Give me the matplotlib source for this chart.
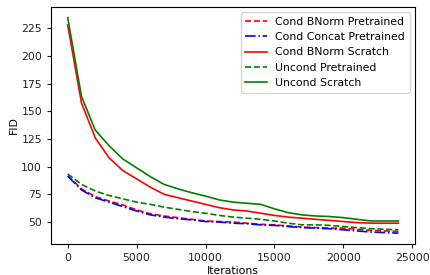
import matplotlib
matplotlib.use("Agg")
import matplotlib.pyplot as plt
import numpy as np

iterations = np.arange(0, 25000, 1000)

cond_bnorm_pre = [92, 80, 73, 69, 65.5, 61, 57.5, 55.5, 54, 52.5, 51, 50.5, 50,
                  49, 48, 47.5, 46.5, 45.5, 45, 44.5, 44.5, 43.5, 42.5, 42, 41.5]
cond_concat_pre = [91.5, 79, 72, 68, 64, 60, 56.5, 54.5, 53, 52, 50.5, 50, 49,
                   48.5, 47.5, 47, 46, 45, 44.5, 44, 43, 42, 41, 40.5, 40]
cond_bnorm_scratch = [228, 157.5, 126, 108, 96.5, 89, 81.5, 75, 72, 69, 66, 63, 61,
                      60, 58, 56, 54.5, 53.5, 52.5, 51.5, 50.5, 49.5, 49, 49, 49]
uncond_pre = [93.5, 84, 78, 74, 71, 68, 66, 63.5, 61.5, 59.5, 58, 56, 54.5,
              53.5, 52.5, 51, 49, 47.5, 47.5, 47, 46, 45, 44, 43.5, 43]
uncond_scratch = [234.6, 163.5, 133, 119, 107, 99, 91, 84, 80, 76.5, 73.5, 70, 68,
                  67, 66, 62, 58.5, 56.5, 55.5, 55, 54, 52.5, 51, 51, 51]

fig = plt.figure(figsize=(4.3, 2.75), dpi=100)
ax = fig.add_axes([0.119, 0.113, 0.846, 0.862])

ax.plot(iterations, cond_bnorm_pre, 'r--', lw=1.2, label='Cond BNorm Pretrained')
ax.plot(iterations, cond_concat_pre, 'b-.', lw=1.2, label='Cond Concat Pretrained')
ax.plot(iterations, cond_bnorm_scratch, 'r-', lw=1.2, label='Cond BNorm Scratch')
ax.plot(iterations, uncond_pre, 'g--', lw=1.2, label='Uncond Pretrained')
ax.plot(iterations, uncond_scratch, 'g-', lw=1.2, label='Uncond Scratch')

ax.set_xticks([0, 5000, 10000, 15000, 20000, 25000])
ax.set_yticks([50, 75, 100, 125, 150, 175, 200, 225])
ax.tick_params(labelsize=7.8, length=3, colors='#222222')
ax.set_xlabel('Iterations', fontsize=7.8, labelpad=2)
ax.set_ylabel('FID', fontsize=7.8, labelpad=2)
ax.legend(loc='upper right', fontsize=7.8)

fig.savefig('out.png', dpi=100)
